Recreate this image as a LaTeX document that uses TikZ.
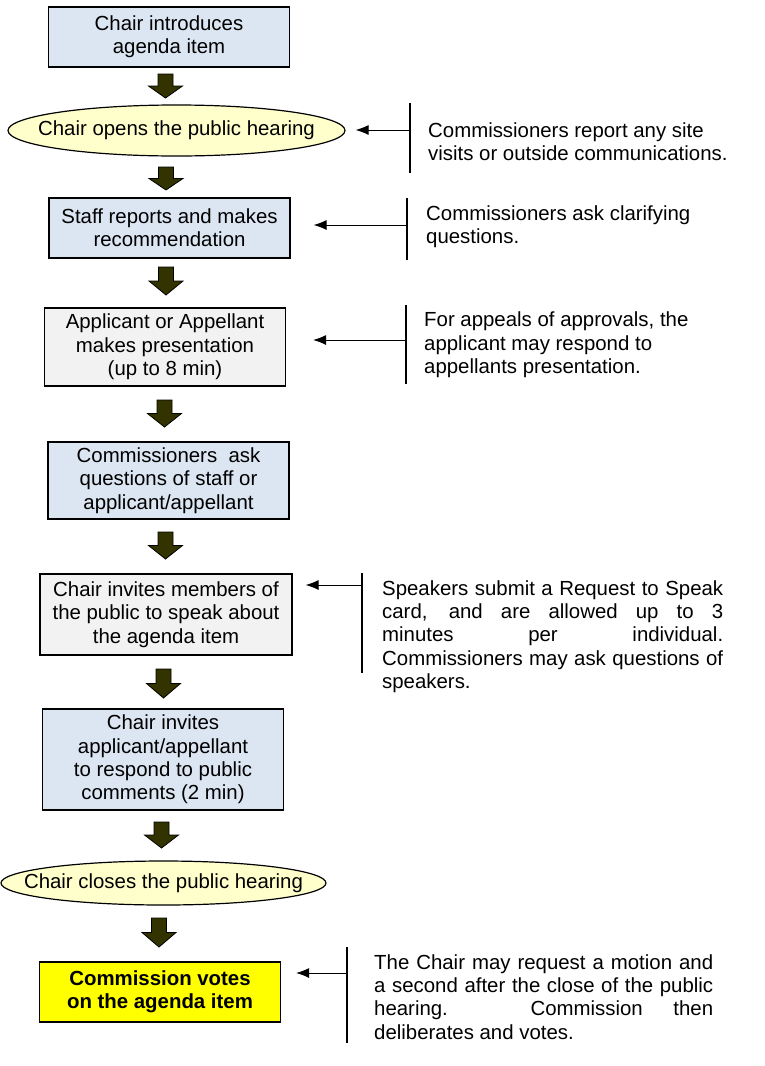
\documentclass[tikz,border=0pt]{standalone}
\usepackage{fontspec}
\setmainfont{Liberation Sans}
\usetikzlibrary{shapes.geometric,arrows.meta,calc}

\definecolor{boxblue}{HTML}{DCE6F2}
\definecolor{boxgray}{HTML}{F2F2F2}
\definecolor{ovalyellow}{HTML}{FFFFCC}
\definecolor{voteyellow}{HTML}{FFFF00}
\definecolor{arrowolive}{HTML}{333300}

\newcommand{\boxfont}{\fontsize{20.4}{23.3}\selectfont}
\hbadness=10000

\tikzset{
  stepbox/.style={draw, line width=1.2pt, fill=boxblue, align=center,
    inner sep=0pt, minimum width=241pt, minimum height=60pt, font=\boxfont},
  oval/.style={draw, ellipse, line width=1.2pt, fill=ovalyellow,
    inner sep=0pt, font=\boxfont},
  note/.style={inner sep=0pt, align=left, font=\boxfont},
  longnote/.style={note, text width=341pt, align=justify},
  bar/.style={line width=1.3pt},
  feed/.style={line width=1pt, -{Latex[length=13pt,width=10pt]}},
  pics/blockdown/.style={code={
    \draw[fill=arrowolive, line width=0.8pt]
      (-7.5,0) -- (7.5,0) -- (7.5,{0.5*#1}) -- (17,{0.5*#1})
      -- (0,#1) -- (-17,{0.5*#1}) -- (-7.5,{0.5*#1}) -- cycle;
  }}
}

\begin{document}
\begin{tikzpicture}[x=1pt, y=-1pt]
    \useasboundingbox[fill=white] (0,0) rectangle (765,1066);

    % steps of the hearing
    \node[stepbox] (b1) at (169,37) {Chair introduces\\ agenda item};
    \node[oval, minimum width=337pt, minimum height=51pt] (e1) at (176.5,130.5)
      {\makebox[0pt]{Chair opens the public hearing}};
    \node[stepbox] (b2) at (169.5,228) {Staff reports and makes\\recommendation};
    \node[stepbox, fill=boxgray, minimum height=78pt] (b3) at (165,347)
      {Applicant or Appellant\\makes presentation\\(up to 8 min)};
    \node[stepbox, minimum height=77pt] (b4) at (168.5,480.5)
      {Commissioners~ ask\\questions of staff or\\applicant/appellant};
    \node[stepbox, fill=boxgray, minimum width=252pt, minimum height=81pt] (b5) at (166,614.5)
      {Chair invites members of\\the public to speak about\\the agenda item};
    \node[stepbox, minimum height=101pt] (b6) at (163,759.5)
      {Chair invites\\applicant/appellant\\to respond to public\\comments (2 min)};
    \node[oval, minimum width=325pt, minimum height=44pt] (e2) at (163.5,883)
      {\makebox[0pt]{Chair closes the public hearing}};
    \node[stepbox, fill=voteyellow, font=\boxfont\bfseries] (b7) at (160,992)
      {Commission votes\\on the agenda item};

    % block arrows
    \pic at (165.5,74) {blockdown=24};
    \pic at (166,167) {blockdown=23};
    \pic at (166,267) {blockdown=28};
    \pic at (164.5,400) {blockdown=27};
    \pic at (165.5,532) {blockdown=27};
    \pic at (163.5,669) {blockdown=29};
    \pic at (161.5,822) {blockdown=26};
    \pic at (159,918) {blockdown=29};

    % side notes
    \node[note, anchor=west] (n1) at (428,141.5)
      {Commissioners report any site\\visits or outside communications.};
    \node[note, anchor=west] (n2) at (426,226.5)
      {Commissioners ask clarifying\\questions.};
    \node[note, anchor=west] (n3) at (424,345)
      {For appeals of approvals, the\\applicant may respond to\\appellants presentation.};
    \node[longnote, anchor=west] (n4) at (382,636.5)
      {Speakers submit a Request to Speak\linebreak card, and are allowed up to 3\linebreak
       minutes per individual.\linebreak Commissioners may ask questions of\linebreak speakers.};
    \node[longnote, text width=339pt, anchor=west] (n5) at (374,997)
      {The Chair may request a motion and\linebreak a second after the close of the public\linebreak
       hearing. Commission then\linebreak deliberates and votes.};

    \coordinate (j1) at (410,130);
    \coordinate (j2) at (407,225);
    \coordinate (j3) at (406,340);
    \coordinate (j4) at (362,585);
    \coordinate (j5) at (347,973);

    \draw[bar] (410,103) -- (410,173);
    \draw[bar] (407,198) -- (407,260);
    \draw[bar] (406,305) -- (406,384);
    \draw[bar] (362,573) -- (362,673);
    \draw[bar] (347,947) -- (347,1043);

    \draw[feed, shorten >=10pt] (j1) -- (j1 -| e1.east);
    \draw[feed, shorten >=23pt] (j2) -- (j2 -| b2.east);
    \draw[feed, shorten >=27pt] (j3) -- (j3 -| b3.east);
    \draw[feed, shorten >=13pt] (j4) -- (j4 -| b5.east);
    \draw[feed, shorten >=15pt] (j5) -- (j5 -| b7.east);
\end{tikzpicture}
\end{document}
